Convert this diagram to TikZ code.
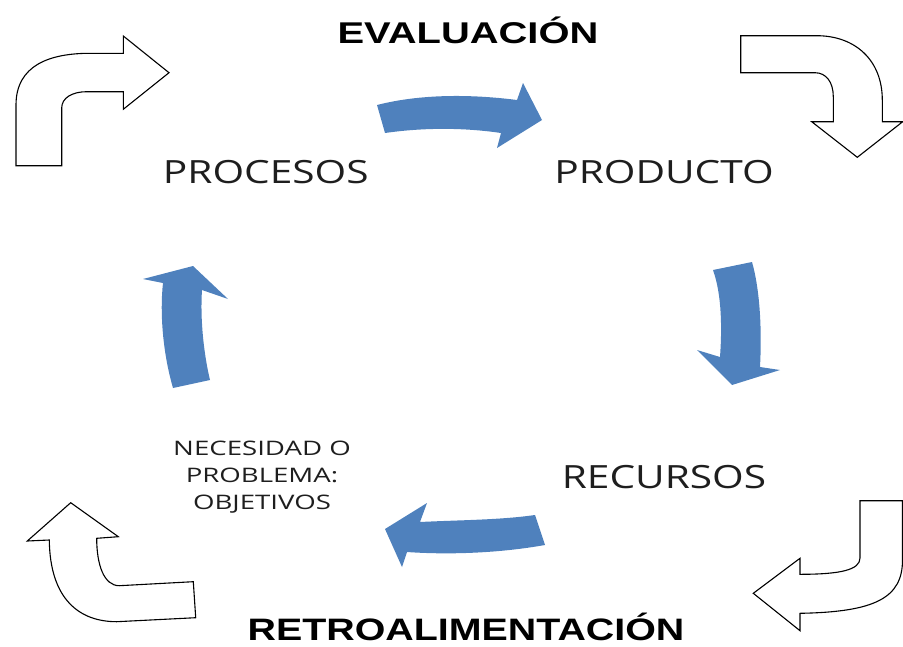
\documentclass[tikz,border=0pt]{standalone}
\usepackage{fontspec}
\setmainfont{Open Sans}
\newfontfamily\titlefont{Liberation Sans}
\definecolor{cycleblue}{RGB}{79,129,189}
\definecolor{labelgray}{RGB}{30,30,30}
\newcommand{\wide}[2][1.27]{\scalebox{#1}[1]{#2}}
\tikzset{
  outline/.style={draw=black,line width=1.1pt,fill=white,line join=miter},
  bluearrow/.style={fill=cycleblue,draw=none},
  stage/.style={font=\fontsize{32}{36}\selectfont,text=labelgray,inner sep=0pt,anchor=base},
  heading/.style={font=\titlefont\bfseries,text=black,inner sep=0pt,anchor=base}
}
\begin{document}
\begin{tikzpicture}[x=1pt,y=-1pt]
  \useasboundingbox (0,0) rectangle (903,646);

  % titles
  \node[heading,font=\titlefont\bfseries\fontsize{30}{34}\selectfont] (eval) at (468,43) {\wide[1.33]{EVALUACIÓN}};
  \node[heading,font=\titlefont\bfseries\fontsize{31}{34}\selectfont] (retro) at (466,640) {\wide[1.27]{RETROALIMENTACIÓN}};

  % stages of the cycle
  \node[stage] (procesos) at (265.8,183) {\wide{PROCESOS}};
  \node[stage] (producto) at (664,183) {\wide{PRODUCTO}};
  \node[stage] (recursos) at (664,488) {\wide{RECURSOS}};
  \node[font=\fontsize{20}{27}\selectfont,text=labelgray,align=center,inner sep=0pt] (necesidad) at (262,477)
    {\wide[1.38]{NECESIDAD O}\\ \wide[1.38]{PROBLEMA:}\\ \wide[1.38]{OBJETIVOS}};

  % curved blue arrows
  \fill[bluearrow] (377,105) .. controls (420,94) and (470,94) .. (517,100) -- (523,83) -- (542,120)
    -- (497,148) -- (501,133) .. controls (460,127) and (420,128) .. (385,133) -- cycle;
  \fill[bluearrow] (713,270) .. controls (722,295) and (722,330) .. (720,357) -- (697,350) -- (732,385)
    -- (780,370) -- (760,367) .. controls (762,330) and (760,290) .. (752,262) -- cycle;
  \fill[bluearrow] (385,529) -- (427,503) -- (420,522) .. controls (460,520) and (500,520) .. (535,515)
    -- (545,545) .. controls (500,553) and (450,555) .. (407,552) -- (402,567) -- cycle;
  \fill[bluearrow] (173,388) .. controls (162,350) and (160,310) .. (163,283) -- (143,279) -- (193,266)
    -- (228,299) -- (202,290) .. controls (200,320) and (204,355) .. (210,380) -- cycle;

  % white corner arrows
  \draw[outline] (16,165.7) -- (16,105) .. controls (16,65) and (50,53.3) .. (90,53.3) -- (123.3,53.3)
    -- (123.3,36) -- (169,72.7) -- (123.3,109.3) -- (123.3,91.7) -- (86.7,91.7)
    .. controls (72,91.7) and (61.7,98) .. (61.7,108) -- (61.7,165.7) -- cycle;
  \draw[outline] (740.7,35.7) -- (816.7,35.7) .. controls (855,35.7) and (882.3,60) .. (882.3,100)
    -- (882.3,121.7) -- (902.7,121.7) -- (857.3,157.3) -- (811.7,121.7) -- (833.3,121.7) -- (833.3,96.7)
    .. controls (833.3,82) and (826,72.7) .. (815,72.7) -- (740.7,72.7) -- cycle;
  \draw[outline] (49.3,540) .. controls (50,600) and (80,621.7) .. (116.7,621.7) -- (195.7,617.7)
    -- (193.3,581.7) -- (119.3,585.7) .. controls (104,585.7) and (96.7,565) .. (96.7,538.3)
    -- (118.3,536.7) -- (70.7,502.7) -- (27.3,541) -- cycle;
  \draw[outline] (860,500.7) -- (860,558) .. controls (860,570) and (840,574.3) .. (800,574.3)
    -- (800,558.3) -- (753.3,593.3) -- (800,630.7) -- (800,613.3)
    .. controls (875,612) and (902.5,598) .. (902.5,560) -- (902.5,500.7) -- cycle;
\end{tikzpicture}
\end{document}
